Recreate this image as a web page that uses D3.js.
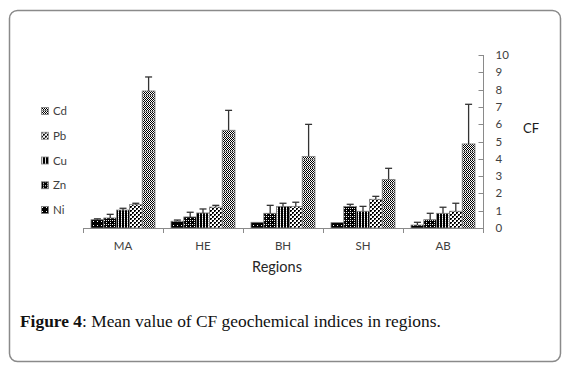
<!DOCTYPE html>
<html>
<head>
<meta charset="utf-8">
<script src="https://cdn.jsdelivr.net/npm/d3@7"></script>
<style>
  html, body { margin: 0; padding: 0; background: #fff; }
  svg { display: block; }
</style>
</head>
<body>
<svg id="chart" width="578" height="379"></svg>
<script>
// ---- Data ----
const regions = ["MA", "HE", "BH", "SH", "AB"];
const seriesNames = ["Ni", "Zn", "Cu", "Pb", "Cd"];
const niMean = [0.48, 0.39, 0.33, 0.31, 0.17];
const znMean = [0.58, 0.64, 0.85, 1.25, 0.48];
const cuMean = [1.04, 0.87, 1.25, 0.97, 0.85];
const pbMean = [1.35, 1.21, 1.25, 1.66, 0.97];
const cdMean = [7.92, 5.65, 4.14, 2.81, 4.86];
const niErr = [0.05, 0.07, 0.00, 0.00, 0.16];
const znErr = [0.21, 0.27, 0.46, 0.12, 0.37];
const cuErr = [0.10, 0.23, 0.18, 0.28, 0.35];
const pbErr = [0.08, 0.10, 0.24, 0.17, 0.46];
const cdErr = [0.81, 1.15, 1.85, 0.64, 2.29];
const yTicks = [0, 1, 2, 3, 4, 5, 6, 7, 8, 9, 10];
const legendOrder = ["Cd", "Pb", "Cu", "Zn", "Ni"];

const means = { Ni: niMean, Zn: znMean, Cu: cuMean, Pb: pbMean, Cd: cdMean };
const errs = { Ni: niErr, Zn: znErr, Cu: cuErr, Pb: pbErr, Cd: cdErr };

const svg = d3.select("#chart");
const sans = "Lato, 'Open Sans', sans-serif";

// ---- Patterns ----
const defs = svg.append("defs");
function pat(id, w, h, draw) {
  const p = defs.append("pattern").attr("id", id)
    .attr("patternUnits", "userSpaceOnUse").attr("width", w).attr("height", h);
  draw(p);
}
function px(p, x, y, c, w = 1, h = 1) {
  p.append("rect").attr("x", x).attr("y", y).attr("width", w).attr("height", h).attr("fill", c);
}
pat("p-Ni", 4, 4, p => { px(p, 0, 0, "#000", 4, 4); px(p, 1, 1, "#fff"); });
pat("p-Zn", 4, 4, p => { px(p, 0, 0, "#000", 4, 4); px(p, 0, 0, "#fff"); px(p, 2, 2, "#fff"); px(p, 2, 0, "#ddd"); });
pat("p-Cu", 3, 2, p => { px(p, 0, 0, "#000", 3, 2); px(p, 1, 0, "#fff"); px(p, 1, 1, "#bbb"); });
pat("p-Pb", 4, 4, p => { px(p, 0, 0, "#fff", 4, 4); px(p, 0, 0, "#000", 2, 2); px(p, 2, 2, "#000", 2, 2); px(p, 1, 1, "#777"); px(p, 3, 3, "#777"); });
pat("p-Cd", 2, 8, p => {
  px(p, 0, 0, "#fff", 2, 8);
  for (let r = 0; r < 7; r++) px(p, r % 2, r, "#000");
  px(p, 0, 7, "#888", 2, 1);
});

// ---- Frame ----
svg.append("rect").attr("x", 9.5).attr("y", 10.5).attr("width", 551).attr("height", 351)
  .attr("rx", 8).attr("fill", "none").attr("stroke", "#8a8a8a").attr("stroke-width", 1.5);

// ---- Scales ----
const x0 = d3.scaleBand().domain(regions).range([83, 483]).padding(0);
const x1 = d3.scaleBand().domain(seriesNames).range([8, 72]).padding(0);
const y = d3.scaleLinear().domain([0, 10]).range([228, 55]);

// ---- Axes ----
const axisColor = "#8a8a8a";
const gx = svg.append("g").attr("transform", "translate(0,228)");
gx.append("line").attr("x1", 83).attr("x2", 483).attr("y1", 0.5).attr("y2", 0.5)
  .attr("stroke", axisColor).attr("stroke-width", 1);
const xBounds = regions.map(r => x0(r)).concat([x0(regions[regions.length - 1]) + x0.bandwidth()]);
gx.selectAll("line.tk").data(xBounds).join("line").attr("class", "tk")
  .attr("x1", d => Math.round(d) + 0.5).attr("x2", d => Math.round(d) + 0.5)
  .attr("y1", 0.5).attr("y2", 5).attr("stroke", axisColor);
gx.selectAll("text").data(regions).join("text")
  .attr("x", d => x0(d) + x0.bandwidth() / 2).attr("y", 22)
  .attr("text-anchor", "middle").attr("font-family", sans)
  .attr("font-size", 11.5).attr("fill", "#404040").text(d => d);

svg.append("text").attr("x", 277).attr("y", 272).attr("text-anchor", "middle")
  .attr("font-family", sans).attr("font-size", 14.5)
  .attr("fill", "#262626").text("Regions");

const gy = svg.append("g").attr("transform", "translate(483.5,0)");
gy.append("line").attr("x1", 0).attr("x2", 0).attr("y1", y(10)).attr("y2", y(0) + 1)
  .attr("stroke", axisColor);
gy.selectAll("line.tk").data(yTicks).join("line").attr("class", "tk")
  .attr("x1", -5).attr("x2", 0).attr("y1", d => Math.round(y(d)) + 0.5).attr("y2", d => Math.round(y(d)) + 0.5)
  .attr("stroke", axisColor);
gy.selectAll("text").data(yTicks).join("text")
  .attr("x", 12).attr("y", d => y(d)).attr("dy", "0.35em")
  .attr("font-family", sans).attr("font-size", 11.5)
  .attr("fill", "#404040").text(d => d);

svg.append("text").attr("x", 523).attr("y", 128).attr("dy", "0.35em")
  .attr("font-family", sans).attr("font-size", 13)
  .attr("fill", "#1a1a1a").text("CF");

// ---- Bars ----
const rows = [];
regions.forEach((r, i) => seriesNames.forEach(s => rows.push({ r, s, v: means[s][i], e: errs[s][i] })));

svg.append("g").selectAll("rect").data(rows).join("rect")
  .attr("x", d => x0(d.r) + x1(d.s))
  .attr("y", d => y(d.v))
  .attr("width", x1.bandwidth())
  .attr("height", d => y(0) - y(d.v))
  .attr("fill", d => `url(#p-${d.s})`)
  .attr("stroke", "#808080").attr("stroke-width", 0.8);

const gErr = svg.append("g");
const withErr = rows.filter(d => d.e > 0);
const cx = d => x0(d.r) + x1(d.s) + x1.bandwidth() / 2;
gErr.selectAll("line.v").data(withErr).join("line").attr("class", "v")
  .attr("x1", cx).attr("x2", cx)
  .attr("y1", d => y(d.v)).attr("y2", d => y(d.v + d.e))
  .attr("stroke", "#333").attr("stroke-width", 1.3);
gErr.selectAll("line.c").data(withErr).join("line").attr("class", "c")
  .attr("x1", d => cx(d) - 3.5).attr("x2", d => cx(d) + 3.5)
  .attr("y1", d => y(d.v + d.e)).attr("y2", d => y(d.v + d.e))
  .attr("stroke", "#333").attr("stroke-width", 1.3);

// ---- Legend ----
const legY = d3.scalePoint().domain(legendOrder).range([111, 210]);
const li = svg.append("g").selectAll("g").data(legendOrder).join("g")
  .attr("transform", d => `translate(41,${legY(d)})`);
li.append("rect").attr("x", 0.5).attr("y", -3.5).attr("width", 7).attr("height", 7)
  .attr("fill", d => `url(#p-${d})`).attr("stroke", "#808080").attr("stroke-width", 0.8);
li.append("text").attr("x", 12).attr("y", 0).attr("dy", "0.36em")
  .attr("font-family", sans).attr("font-size", 11.5)
  .attr("fill", "#404040").text(d => d);

// ---- Caption ----
const cap = svg.append("text").attr("x", 20).attr("y", 327)
  .attr("font-family", "Liberation Serif, serif").attr("font-size", 17.4).attr("fill", "#111");
cap.append("tspan").attr("font-weight", "bold").text("Figure 4");
cap.append("tspan").text(": Mean value of CF geochemical indices in regions.");
</script>
</body>
</html>
